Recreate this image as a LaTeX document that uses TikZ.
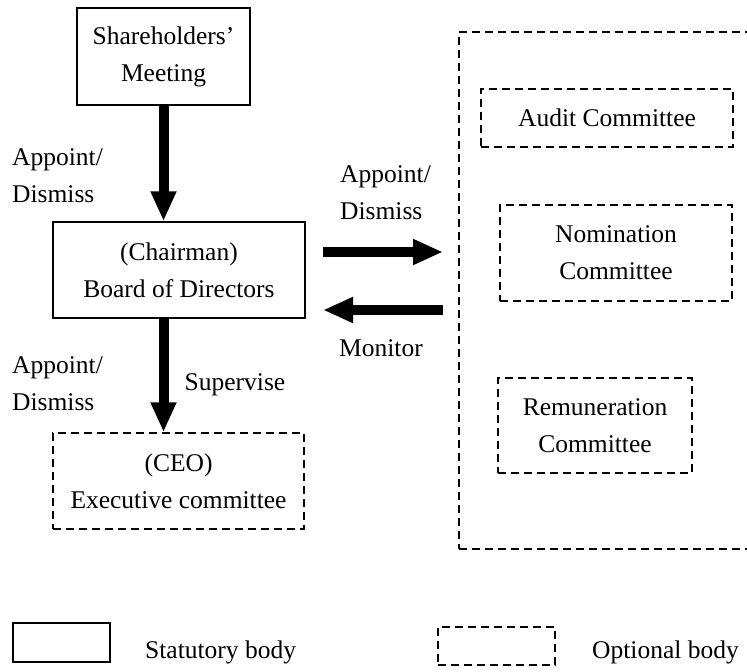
\documentclass[tikz,border=0pt]{standalone}
\usepackage{fontspec}
\setmainfont{Liberation Serif}
\usetikzlibrary{arrows.meta}

\tikzset{
  statutory/.style={draw, line width=1.5pt, align=center, inner sep=0pt},
  optional/.style={draw, dash pattern=on 8pt off 5pt, line width=1.5pt, align=center, inner sep=0pt},
  bigarrow/.style={line width=10pt, -{Triangle[width=24pt,length=30pt]}},
  lbl/.style={align=left, anchor=west, inner sep=0pt}
}

\begin{document}
\begin{tikzpicture}[x=1pt,y=-1pt,font=\fontsize{25.5pt}{37pt}\selectfont]
  \useasboundingbox (0,0) rectangle (747,672);
  \clip (0,0) rectangle (747,672);

  % Statutory bodies
  \node[statutory, minimum width=173pt, minimum height=97pt] (meeting) at (163.5,56.5) {Shareholders'\\Meeting};
  \node[statutory, minimum width=252pt, minimum height=96pt] (board) at (179,270) {(Chairman)\\Board of Directors};

  % Optional bodies
  \node[optional, minimum width=251pt, minimum height=96pt] (ceo) at (178.5,481) {(CEO)\\Executive committee};
  \node[optional, minimum width=311pt, minimum height=517pt] (group) at (614.5,290.5) {};
  \node[optional, minimum width=252pt, minimum height=58pt] (audit) at (607,118) {Audit Committee};
  \node[optional, minimum width=232pt, minimum height=96pt] (nomination) at (616,253) {Nomination\\Committee};
  \node[optional, minimum width=194pt, minimum height=95pt] (remuneration) at (595,425.5) {Remuneration\\Committee};

  % Arrows
  \coordinate (a1) at (323,252);
  \coordinate (a2) at (443,252);
  \coordinate (m1) at (443,310);
  \coordinate (m2) at (323,310);
  \draw[bigarrow] (meeting.south) -- (meeting.south |- board.north);
  \draw[bigarrow] (meeting.south |- board.south) -- (meeting.south |- ceo.north);
  \draw[bigarrow] (a1) -- (a2);
  \draw[bigarrow] (m1) -- (m2);

  % Labels
  \node[lbl] (l1) at (12,176) {Appoint/\\Dismiss};
  \node[lbl] (l2) at (12,384) {Appoint/\\Dismiss};
  \node[lbl] (l3) at (340,193) {Appoint/\\Dismiss};
  \node (sup) at (235,385) {Supervise};
  \node (mon) at (381,348) {Monitor};

  % Legend
  \node[statutory, minimum width=97pt, minimum height=39pt] (keys) at (61.5,642.5) {};
  \node[optional, minimum width=117pt, minimum height=38pt] (keyo) at (496.5,646) {};
  \node[lbl] (ts) at (145,652) {Statutory body};
  \node[lbl] (to) at (592,652) {Optional body};
\end{tikzpicture}
\end{document}
